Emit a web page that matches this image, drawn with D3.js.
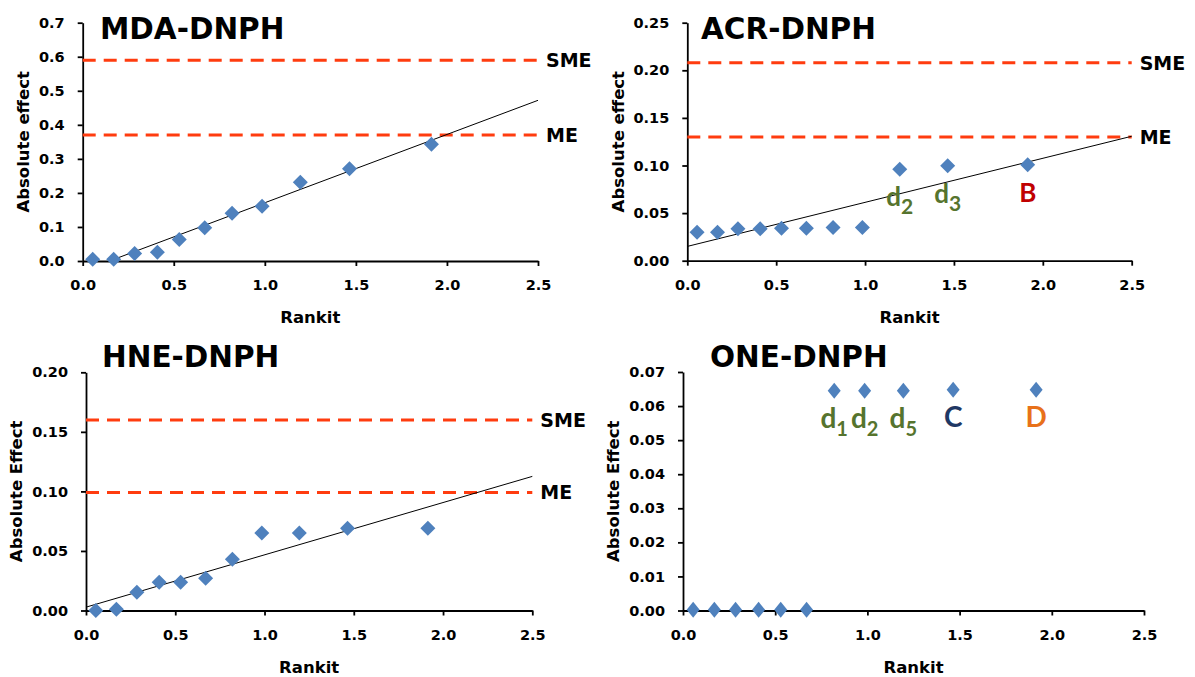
<!DOCTYPE html>
<html>
<head>
<meta charset="utf-8">
<script src="https://cdn.jsdelivr.net/npm/d3@7"></script>
<style>
  body { margin: 0; background: #fff; }
  text { font-family: "DejaVu Sans", sans-serif; font-weight: bold; }
</style>
</head>
<body>
<svg id="chart" width="1195" height="677"></svg>
<script>
// Rankit positions shared by all four plots (11 effects)
var rankit = [0.055, 0.17, 0.285, 0.41, 0.53, 0.67, 0.82, 0.985, 1.195, 1.465, 1.915];

// Absolute effects
var mdaEffect = [0.005, 0.005, 0.022, 0.026, 0.063, 0.098, 0.140, 0.161, 0.231, 0.271, 0.343];
var acrEffect = [0.030, 0.030, 0.0335, 0.0335, 0.034, 0.034, 0.035, 0.035, 0.096, 0.0997, 0.1008];
var hneEffect = [0.000, 0.001, 0.0154, 0.0237, 0.0237, 0.027, 0.043, 0.065, 0.065, 0.069, 0.069];
var oneEffect = [0.0002, 0.0002, 0.0002, 0.0002, 0.0002, 0.0002, 0.0645, 0.0645, 0.0645, 0.0648, 0.0648];

// Reference line end points [rankit, effect]
var mdaFit = [[0.147, 0], [2.5, 0.472]];
var acrFit = [[0, 0.015], [2.5, 0.1307]];
var hneFit = [[0, 0.0028], [2.5, 0.1126]];

// Margin of error / simultaneous margin of error
var mdaLimits = [{name: "SME", value: 0.59}, {name: "ME", value: 0.37}];
var acrLimits = [{name: "SME", value: 0.208}, {name: "ME", value: 0.130}];
var hneLimits = [{name: "SME", value: 0.16}, {name: "ME", value: 0.099}];

// Point annotations: index into the effects, text, subscript
var acrNotes = [
  {i: 8, text: "d", sub: "2", kind: "d"},
  {i: 9, text: "d", sub: "3", kind: "d"},
  {i: 10, text: "B", sub: "", kind: "B"}
];
var oneNotes = [
  {i: 6, text: "d", sub: "1", kind: "d"},
  {i: 7, text: "d", sub: "2", kind: "d"},
  {i: 8, text: "d", sub: "5", kind: "d"},
  {i: 9, text: "C", sub: "", kind: "C"},
  {i: 10, text: "D", sub: "", kind: "D"}
];
var noteColor = {d: "#56742e", B: "#c00000", C: "#1f3864", D: "#e8711a"};

var xTicks = [0, 0.5, 1.0, 1.5, 2.0, 2.5];

var panels = [
  {title: "MDA-DNPH", yLabel: "Absolute effect", ymax: 0.7, yStep: 0.1, yFmt: ".1f",
   values: mdaEffect, fit: mdaFit, limits: mdaLimits, notes: [],
   box: [82.7, 538, 22.7, 261], titleX: 100, titleY: 39, mark: [15, 15], note: [26, 21]},
  {title: "ACR-DNPH", yLabel: "Absolute effect", ymax: 0.25, yStep: 0.05, yFmt: ".2f",
   values: acrEffect, fit: acrFit, limits: acrLimits, notes: acrNotes,
   box: [687.3, 1131.7, 22.7, 260.7], titleX: 701, titleY: 39, mark: [15, 15], note: [26, 21]},
  {title: "HNE-DNPH", yLabel: "Absolute Effect", ymax: 0.2, yStep: 0.05, yFmt: ".2f",
   values: hneEffect, fit: hneFit, limits: hneLimits, notes: [],
   box: [86, 532.3, 372.3, 610.5], titleX: 102, titleY: 367, mark: [15, 15], note: [26, 21]},
  {title: "ONE-DNPH", yLabel: "Absolute Effect", ymax: 0.07, yStep: 0.01, yFmt: ".2f",
   values: oneEffect, fit: null, limits: [], notes: oneNotes,
   box: [683, 1144, 372, 610.5], titleX: 710, titleY: 367, mark: [13, 16], note: [28, 20]}
];

var svg = d3.select("#chart");

function diamond(w, h) {
  return "M0," + (-h / 2) + "L" + (w / 2) + ",0L0," + (h / 2) + "L" + (-w / 2) + ",0Z";
}

panels.forEach(function (p) {
  var g = svg.append("g");
  var x = d3.scaleLinear().domain([0, 2.5]).range([p.box[0], p.box[1]]);
  var y = d3.scaleLinear().domain([0, p.ymax]).range([p.box[3], p.box[2]]);
  var yTicks = d3.range(0, p.ymax + p.yStep / 2, p.yStep);

  // axes
  var yAxis = g.append("g")
    .attr("transform", "translate(" + p.box[0] + ",0)")
    .call(d3.axisLeft(y).tickValues(yTicks).tickFormat(d3.format(p.yFmt))
      .tickSize(5).tickSizeOuter(0).tickPadding(13));
  var xAxis = g.append("g")
    .attr("transform", "translate(0," + p.box[3] + ")")
    .call(d3.axisBottom(x).tickValues(xTicks).tickFormat(d3.format(".1f"))
      .tickSize(5).tickSizeOuter(0).tickPadding(14));
  [yAxis, xAxis].forEach(function (a) {
    a.selectAll("path, line").attr("stroke", "#000").attr("stroke-width", 1.8);
    a.selectAll("text").attr("font-size", 14.5).attr("font-family", "DejaVu Sans")
      .attr("font-weight", "bold").attr("fill", "#000");
  });

  // axis titles
  var labelW = d3.max(yAxis.selectAll("text").nodes(), function (n) { return n.getBBox().width; });
  var ytx = p.box[0] - 5 - 13 - labelW - 10;
  g.append("text")
    .attr("transform", "translate(" + ytx + "," + ((p.box[2] + p.box[3]) / 2) + ") rotate(-90)")
    .attr("text-anchor", "middle")
    .attr("font-size", 16.5)
    .text(p.yLabel);
  g.append("text")
    .attr("x", (p.box[0] + p.box[1]) / 2)
    .attr("y", p.box[3] + 62)
    .attr("text-anchor", "middle")
    .attr("font-size", 16.5)
    .text("Rankit");

  // SME / ME lines
  g.selectAll(".lim").data(p.limits).enter().append("line")
    .attr("x1", x(0)).attr("x2", x(2.5))
    .attr("y1", function (d) { return y(d.value); })
    .attr("y2", function (d) { return y(d.value); })
    .attr("stroke", "#ff3c0f")
    .attr("stroke-width", 3)
    .attr("stroke-dasharray", "13,8");
  g.selectAll(".limtxt").data(p.limits).enter().append("text")
    .attr("x", x(2.5) + 8)
    .attr("y", function (d) { return y(d.value); })
    .attr("dy", "0.36em")
    .attr("font-size", 19)
    .text(function (d) { return d.name; });

  // fitted line
  if (p.fit) {
    g.append("path")
      .datum(p.fit)
      .attr("d", d3.line().x(function (d) { return x(d[0]); }).y(function (d) { return y(d[1]); }))
      .attr("stroke", "#000").attr("stroke-width", 1).attr("fill", "none");
  }

  // points
  g.selectAll(".pt").data(p.values).enter().append("path")
    .attr("d", diamond(p.mark[0], p.mark[1]))
    .attr("transform", function (d, i) { return "translate(" + x(rankit[i]) + "," + y(d) + ")"; })
    .attr("fill", "#4f81bd");

  // annotations under the highlighted points (narrower face, like the original)
  var notes = g.selectAll(".note").data(p.notes).enter().append("text")
    .attr("x", function (d) { return x(rankit[d.i]); })
    .attr("y", function (d) { return y(p.values[d.i]) + 37; })
    .attr("text-anchor", "middle")
    .style("font-family", "Lato, sans-serif")
    .attr("fill", function (d) { return noteColor[d.kind]; });
  notes.append("tspan").attr("font-size", p.note[0]).text(function (d) { return d.text; });
  notes.append("tspan").attr("font-size", p.note[1]).attr("dy", 8).text(function (d) { return d.sub; });

  // plot title
  g.append("text")
    .attr("x", p.titleX).attr("y", p.titleY)
    .attr("font-size", 29.5)
    .text(p.title);
});
</script>
</body>
</html>
